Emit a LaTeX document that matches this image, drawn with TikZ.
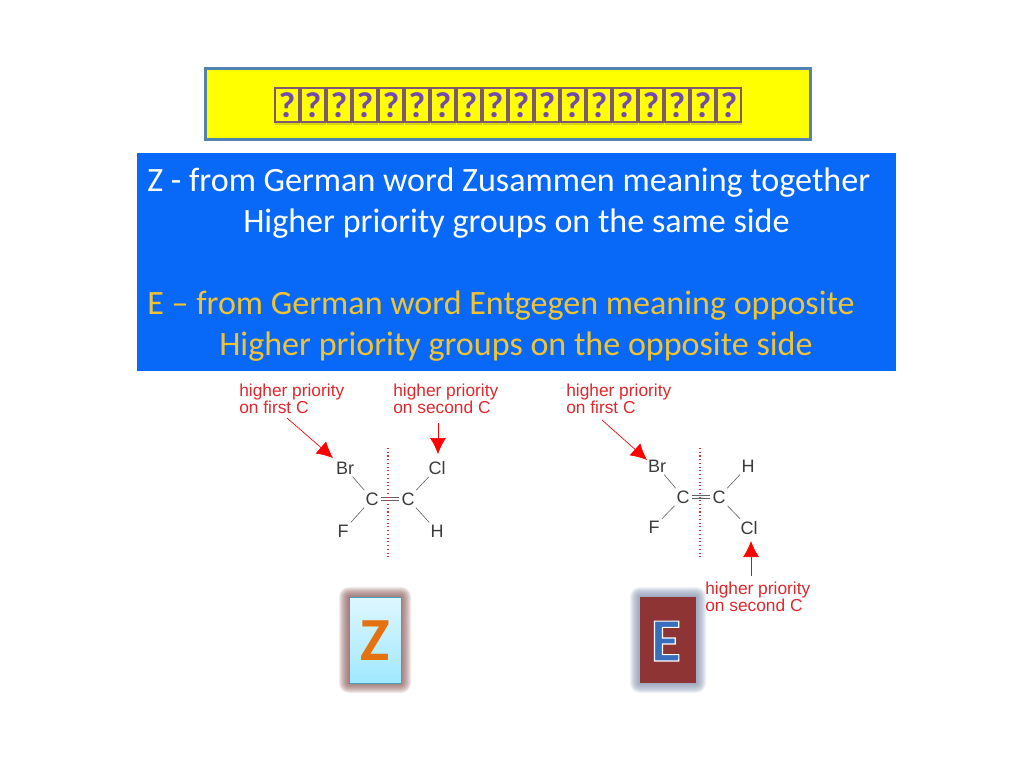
\documentclass[tikz,border=0pt]{standalone}
\usepackage{fontspec}
\setmainfont{Carlito}
\newfontfamily\molfont{Liberation Sans}
\usetikzlibrary{arrows.meta}
\definecolor{framebl}{RGB}{84,130,175}
\definecolor{panelbl}{RGB}{8,104,248}
\definecolor{goldtx}{RGB}{240,195,50}
\definecolor{redtx}{RGB}{225,40,45}
\definecolor{tileedge}{RGB}{125,90,110}
\definecolor{tileq}{RGB}{115,75,175}
\definecolor{atomc}{RGB}{60,60,60}
\definecolor{zglow}{RGB}{140,90,90}
\definecolor{eglow}{RGB}{130,145,175}
\definecolor{ztop}{RGB}{222,247,255}
\definecolor{zbot}{RGB}{160,232,255}
\definecolor{zedge}{RGB}{70,160,175}
\definecolor{eback}{RGB}{143,52,52}
\definecolor{zletter}{RGB}{228,115,15}
\definecolor{eletter}{RGB}{55,110,190}
\definecolor{bandyel}{RGB}{255,255,0}
\definecolor{tileshadow}{RGB}{190,190,20}
\tikzset{
  panel/.style={anchor=base west,inner sep=0pt,font=\fontsize{25.55}{30}\selectfont},
  tile/.style={minimum width=18pt,minimum height=25.5pt,inner sep=0pt,fill=bandyel,draw=tileedge,line width=2.2pt,text=tileq,font=\fontsize{27}{27}\selectfont\bfseries},
  redlbl/.style={anchor=west,inner sep=0pt,align=left,text=redtx,font=\molfont\fontsize{13}{11.2}\selectfont},
  atom/.style={inner sep=1.6pt,text=atomc,font=\molfont\fontsize{13.5}{13.5}\selectfont},
  bond/.style={draw=atomc!80,line width=0.45pt},
  dbond/.style={draw=atomc!80,line width=0.45pt,double,double distance=1.5pt},
  axisline/.style={draw=redtx,line width=0.8pt,dotted},
  redarrow/.style={draw=red,line width=0.5pt,-{Latex[length=12pt,width=12pt]}},
  letterbox/.style={minimum width=#1,minimum height=64.5pt,inner sep=0pt,line width=0.6pt},
}
\begin{document}
\begin{tikzpicture}[x=0.75pt,y=-0.75pt]
\useasboundingbox[fill=white] (0,0) rectangle (1024,768);
% title band
\node[draw=framebl,fill=bandyel,line width=1.9pt,minimum width=454pt,minimum height=53.5pt,inner sep=0pt] (title) at (508,104) {};
\foreach \i in {0,...,17} {
  \fill[tileshadow,opacity=0.6] ({275+26*\i},92) rectangle ({300+26*\i},125);
  \node[tile] (q\i) at ({287+26*\i},105) {?};
}
% blue panel
\node[fill=panelbl,minimum width=569pt,minimum height=163.5pt,inner sep=0pt] (panel) at (516.5,262) {};
\node[panel,text=white] (l1) at (147,191) {Z - from German word Zusammen meaning together};
\node[panel,text=white] (l2) at (243,232) {Higher priority groups on the same side};
\node[panel,text=goldtx] (l3) at (147,314) {E – from German word Entgegen meaning opposite};
\node[panel,text=goldtx] (l4) at (219,355) {Higher priority groups on the opposite side};
% left molecule
\node[atom] (br1) at (345,468) {Br};
\node[atom] (c1a) at (372,499) {C};
\node[atom] (c1b) at (408,499) {C};
\node[atom] (cl1) at (437,468) {Cl};
\node[atom] (f1) at (343,531) {F};
\node[atom] (h1) at (437,531) {H};
\draw[bond] (br1) -- (c1a);
\draw[bond] (f1) -- (c1a);
\draw[bond] (c1b) -- (cl1);
\draw[bond] (c1b) -- (h1);
\draw[dbond] (c1a) -- (c1b);
\coordinate (d1a) at (388,448); \coordinate (d1b) at (388,558);
\draw[axisline] (d1a) -- (d1b);
\node[redlbl] (p1) at (239,399) {higher priority\\on first C};
\node[redlbl] (p2) at (393,399) {higher priority\\on second C};
\coordinate (a1) at (287,418); \coordinate (a1e) at (333,458);
\coordinate (a2) at (438,423); \coordinate (a2e) at (438,454);
\draw[redarrow] (a1) -- (a1e);
\draw[redarrow] (a2) -- (a2e);
% right molecule
\node[atom] (br2) at (657,466) {Br};
\node[atom] (c2a) at (683,497) {C};
\node[atom] (c2b) at (719,497) {C};
\node[atom] (h2) at (748,466) {H};
\node[atom] (f2) at (654,527) {F};
\node[atom] (cl2) at (749,528) {Cl};
\draw[bond] (br2) -- (c2a);
\draw[bond] (f2) -- (c2a);
\draw[bond] (c2b) -- (h2);
\draw[bond] (c2b) -- (cl2);
\draw[dbond] (c2a) -- (c2b);
\coordinate (d2a) at (700,448); \coordinate (d2b) at (700,559);
\draw[axisline] (d2a) -- (d2b);
\node[redlbl] (p3) at (566,399) {higher priority\\on first C};
\node[redlbl] (p4) at (705,597) {higher priority\\on second C};
\coordinate (a3) at (602,420); \coordinate (a3e) at (647,460);
\coordinate (a4) at (751,576); \coordinate (a4e) at (751,541);
\draw[redarrow] (a3) -- (a3e);
\draw[redarrow] (a4) -- (a4e);
% Z and E tiles: soft glow built from stacked translucent layers
\foreach \w in {10,9,8,7,6,5,4,3,2,1} {
  \fill[zglow,opacity=0.12,rounded corners=\w*0.75pt] (349-\w,597-\w) rectangle (401+\w,683+\w);
  \fill[eglow,opacity=0.12,rounded corners=\w*0.75pt] (640-\w,597-\w) rectangle (696+\w,683+\w);
}
\node[letterbox=39pt,draw=zedge,top color=ztop,bottom color=zbot] (zbox) at (375,640) {};
\node[letterbox=42pt,fill=eback] (ebox) at (668,640) {};
\node[inner sep=0pt,text=zletter,font=\fontsize{46}{46}\selectfont\bfseries] (zl) at (375,641) {Z};
\node[inner sep=0pt,text=eletter,font=\fontsize{46}{46}\selectfont\bfseries] (el) at (666,641) {\special{pdf:code q 2 Tr 1 1 1 RG 0.9 w}E\special{pdf:code Q}};
\end{tikzpicture}
\end{document}
